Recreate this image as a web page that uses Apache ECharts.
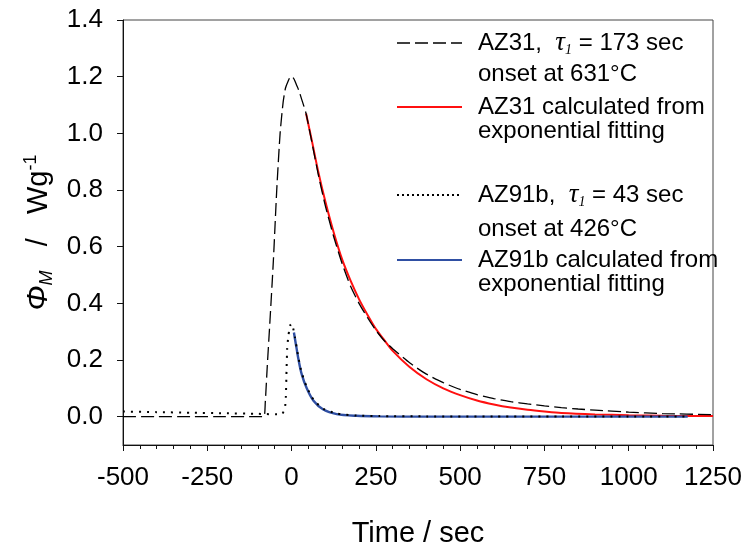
<!DOCTYPE html>
<html><head><meta charset="utf-8">
<script src="https://cdn.jsdelivr.net/npm/echarts@6/dist/echarts.min.js"></script>
<style>html,body{margin:0;padding:0;background:#fff}#c{width:744px;height:548px}</style>
</head><body><div id="c"></div>
<script>
// AZ31 measured (dashed), [time s, W/g]
const az31Measured = [
 [-500,0],[-400,0],[-300,0],[-200,0],[-100,0],[-82,0],[-78,0.05],[-72,0.18],[-64,0.34],[-54,0.55],
 [-44,0.8],[-34,1.0],[-25,1.11],[-18,1.16],[-10,1.185],[-3,1.2],[2,1.2],[8,1.19],[15,1.17],[22,1.15],
 [30,1.12],[43,1.07],[60,0.97],[80,0.85],[100,0.745],[125,0.635],[150,0.54],[175,0.46],[200,0.4],
 [225,0.35],[250,0.305],[275,0.268],[300,0.24],[350,0.19],[400,0.15],[450,0.12],[500,0.096],[550,0.078],
 [600,0.064],[650,0.053],[700,0.045],[750,0.038],[800,0.032],[850,0.027],[900,0.023],[1000,0.016],
 [1100,0.011],[1250,0.007]
];
// AZ31 exponential fit (red)
const az31Fit = [
 [43,1.07],[60,0.975],[80,0.86],[100,0.76],[125,0.65],[150,0.555],[175,0.48],[200,0.415],[225,0.36],
 [250,0.31],[275,0.27],[300,0.232],[350,0.175],[400,0.132],[450,0.1],[500,0.076],[550,0.057],[600,0.043],
 [650,0.032],[700,0.024],[750,0.018],[800,0.013],[900,0.008],[1000,0.005],[1100,0.003],[1250,0.002]
];
// AZ91b measured (dotted)
const az91Measured = [
 [-500,0.018],[-400,0.016],[-300,0.014],[-200,0.012],[-100,0.01],[-30,0.008],[-20,0.03],[-17,0.07],
 [-15,0.16],[-13,0.24],[-10,0.28],[-7,0.305],[-3,0.325],[0,0.328],[3,0.32],[6,0.305],[10,0.28],[15,0.245],
 [20,0.21],[30,0.155],[45,0.105],[65,0.06],[94,0.028],[134,0.011],[193,0.004],[260,0.002],[400,0.001],
 [600,0.001],[800,0.001],[1000,0.001],[1175,0.001]
];
// AZ91b exponential fit (blue)
const az91Fit = [
 [7,0.297],[10,0.275],[15,0.24],[20,0.205],[30,0.15],[45,0.1],[65,0.056],[94,0.025],[134,0.009],
 [193,0.003],[260,0.001],[400,0],[600,0],[800,0],[1000,0],[1175,0]
];
const yTickValues = [0,0.2,0.4,0.6,0.8,1.0,1.2,1.4];

const F = '"Liberation Sans", Arial, sans-serif';
const chart = echarts.init(document.getElementById('c'));
const legendRich = {
  a:{fontFamily:F,fontSize:24,color:'#000',lineHeight:28},
  t:{fontFamily:'"Liberation Serif", serif',fontStyle:'italic',fontSize:27,color:'#000',lineHeight:28},
  s:{fontFamily:'"Liberation Serif", serif',fontStyle:'italic',fontSize:14,color:'#000',verticalAlign:'bottom',lineHeight:28}
};
function txt(x,y,text){
  return {type:'text',x:x,y:y,z:100,style:{text:text,fontFamily:F,fontSize:24,fill:'#000',verticalAlign:'middle',rich:legendRich}};
}
function ln(y,color,dash,w){
  return {type:'line',z:100,shape:{x1:397,y1:y,x2:462,y2:y},style:{stroke:color,lineWidth:w,lineDash:dash}};
}
chart.setOption({
  animation:false,
  grid:{left:123,right:31,top:20,bottom:103,show:true,borderColor:'#444',borderWidth:1,backgroundColor:'transparent',
    containLabel:false,outerBoundsMode:'none'},
  xAxis:{type:'value',min:-500,max:1250,interval:250,
    axisLine:{onZero:false,lineStyle:{color:'#111',width:1}},
    axisTick:{length:6,lineStyle:{color:'#111'}},
    minorTick:{show:true,splitNumber:5,length:4,lineStyle:{color:'#111'}},
    splitLine:{show:false},minorSplitLine:{show:false},
    axisLabel:{fontFamily:F,fontSize:26,color:'#000',margin:20,formatter:v=>String(v)},
    name:'Time / sec',nameLocation:'middle',nameGap:74,
    nameTextStyle:{fontFamily:F,fontSize:29,color:'#000'}},
  yAxis:{type:'value',min:-0.1,max:1.4,
    axisLine:{show:true,onZero:false,lineStyle:{color:'#111',width:1}},
    axisTick:{show:true,length:6,customValues:yTickValues,lineStyle:{color:'#111'}},
    axisLabel:{customValues:yTickValues,formatter:v=>v.toFixed(1),fontFamily:F,fontSize:26,color:'#000',margin:20},
    splitLine:{show:false},
    name:'{i|Φ}{sub|M}{n|   /   Wg}{sup|-1}',nameLocation:'middle',nameRotate:90,nameGap:67,
    nameTextStyle:{rich:{
      i:{fontFamily:F,fontStyle:'italic',fontSize:30,color:'#000',lineHeight:34},
      sub:{fontFamily:F,fontStyle:'italic',fontSize:18,color:'#000',verticalAlign:'bottom',lineHeight:34},
      n:{fontFamily:F,fontSize:29,color:'#000',lineHeight:34},
      sup:{fontFamily:F,fontSize:18,color:'#000',verticalAlign:'top',lineHeight:34}
    }}},
  series:[
    {name:'AZ31 fit',type:'line',data:az31Fit,showSymbol:false,smooth:0.3,lineStyle:{color:'#ff1010',width:2},z:2},
    {name:'AZ31',type:'line',data:az31Measured,showSymbol:false,smooth:0.2,lineStyle:{color:'#000',width:1.3,type:[13,5]},z:3},
    {name:'AZ91b fit',type:'line',data:az91Fit,showSymbol:false,smooth:0.3,lineStyle:{color:'#2f4fa3',width:2.4},z:4},
    {name:'AZ91b',type:'line',data:az91Measured,showSymbol:false,smooth:0.2,lineStyle:{color:'#000',width:2,type:[2,6]},z:5}
  ],
  graphic:[
    ln(43,'#000',[13,5],1.3),
    txt(478,43,'{a|AZ31,  }{t|τ}{s|1}{a| = 173 sec}'),
    txt(478,74,'{a|onset at 631°C}'),
    ln(107,'#ff1010',null,2),
    txt(478,107,'{a|AZ31 calculated from}'),
    txt(478,131,'{a|exponential fitting}'),
    ln(195,'#000',[2,3],2),
    txt(478,195,'{a|AZ91b,  }{t|τ}{s|1}{a| = 43 sec}'),
    txt(478,229,'{a|onset at 426°C}'),
    ln(260,'#2f4fa3',null,2),
    txt(478,260,'{a|AZ91b calculated from}'),
    txt(478,284,'{a|exponential fitting}')
  ]
});
</script></body></html>
